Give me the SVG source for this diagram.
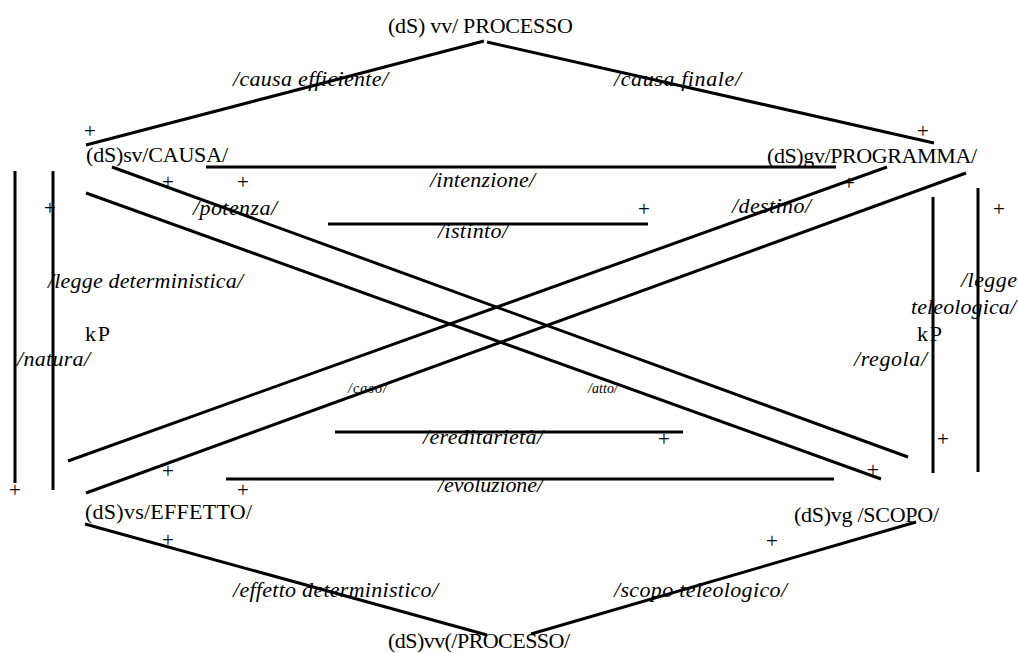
<svg xmlns="http://www.w3.org/2000/svg" width="1018" height="653" viewBox="0 0 1018 653">
<style>
  .bg { fill: #ffffff; }
  .ln { stroke: #000000; stroke-width: 3; fill: none; stroke-linecap: butt; }
  .nd { font-family: "Liberation Serif", "Times New Roman", serif; font-size: 22px; fill: #000000; }
  .lb { font-family: "Liberation Serif", "Times New Roman", serif; font-size: 22px; font-style: italic; fill: #000000; }
  .sm { font-family: "Liberation Serif", "Times New Roman", serif; font-size: 14px; font-style: italic; fill: #000000; }
  .pl { font-family: "Liberation Serif", "Times New Roman", serif; font-size: 21px; fill: #000000; text-anchor: middle; }
</style>
<rect class="bg" x="0" y="0" width="1018" height="653"/>

<g id="connectors">
  <line class="ln" x1="86" y1="145" x2="484" y2="41"/>
  <line class="ln" x1="487" y1="42" x2="934" y2="143"/>
  <line class="ln" x1="206" y1="167" x2="836" y2="167"/>
  <line class="ln" x1="328" y1="224" x2="648" y2="224"/>
  <line class="ln" x1="112" y1="167" x2="908" y2="457"/>
  <line class="ln" x1="86" y1="193" x2="881" y2="479"/>
  <line class="ln" x1="887" y1="167" x2="68" y2="461"/>
  <line class="ln" x1="966" y1="173" x2="86" y2="493"/>
  <line class="ln" x1="15" y1="171" x2="15" y2="483"/>
  <line class="ln" x1="53" y1="171" x2="53" y2="490"/>
  <line class="ln" x1="933" y1="197" x2="933" y2="473"/>
  <line class="ln" x1="978" y1="188" x2="978" y2="472"/>
  <line class="ln" x1="335" y1="432" x2="683" y2="432"/>
  <line class="ln" x1="226" y1="479" x2="834" y2="479"/>
  <line class="ln" x1="85" y1="524" x2="487" y2="635"/>
  <line class="ln" x1="531" y1="634" x2="916" y2="522"/>
</g>

<g id="node-processo-top"><text class="nd" x="388" y="33" textLength="185">(dS) vv/ PROCESSO</text></g>
<g id="node-causa"><text class="nd" x="86" y="162" textLength="142">(dS)sv/CAUSA/</text></g>
<g id="node-programma"><text class="nd" x="767" y="163" textLength="210">(dS)gv/PROGRAMMA/</text></g>
<g id="node-effetto"><text class="nd" x="85" y="519" textLength="167">(dS)vs/EFFETTO/</text></g>
<g id="node-scopo"><text class="nd" x="794" y="522" textLength="145">(dS)vg /SCOPO/</text></g>
<g id="node-processo-bottom"><text class="nd" x="388" y="648" textLength="182">(dS)vv(/PROCESSO/</text></g>
<g id="node-kp-left"><text class="nd" x="85" y="341" textLength="25">kP</text></g>
<g id="node-kp-right"><text class="nd" x="917" y="341" textLength="25">kP</text></g>

<g id="labels">
  <text class="lb" x="233" y="86" textLength="155">/causa efficiente/</text>
  <text class="lb" x="614" y="86" textLength="127">/causa finale/</text>
  <text class="lb" x="430" y="187" textLength="105">/intenzione/</text>
  <text class="lb" x="193" y="215" textLength="84">/potenza/</text>
  <text class="lb" x="438" y="238" textLength="70">/istinto/</text>
  <text class="lb" x="732" y="213" textLength="79">/destino/</text>
  <text class="lb" x="48" y="288" textLength="195">/legge deterministica/</text>
  <text class="lb" x="17" y="366" textLength="73">/natura/</text>
  <text class="lb" x="961" y="287" textLength="56">/legge</text>
  <text class="lb" x="911" y="314" textLength="105">teleologica/</text>
  <text class="lb" x="854" y="366" textLength="73">/regola/</text>
  <text class="sm" x="348" y="393" textLength="39">/caso/</text>
  <text class="sm" x="588" y="393" textLength="30">/atto/</text>
  <text class="lb" x="423" y="444" textLength="120">/ereditarietà/</text>
  <text class="lb" x="438" y="492" textLength="105">/evoluzione/</text>
  <text class="lb" x="233" y="597" textLength="205">/effetto deterministico/</text>
  <text class="lb" x="614" y="597" textLength="173">/scopo teleologico/</text>
</g>

<g id="plus-marks">
  <text class="pl" x="90" y="138">+</text>
  <text class="pl" x="168" y="189">+</text>
  <text class="pl" x="243" y="189">+</text>
  <text class="pl" x="50" y="215">+</text>
  <text class="pl" x="644" y="216">+</text>
  <text class="pl" x="849" y="190">+</text>
  <text class="pl" x="923" y="138">+</text>
  <text class="pl" x="999" y="216">+</text>
  <text class="pl" x="943" y="446">+</text>
  <text class="pl" x="664" y="446">+</text>
  <text class="pl" x="873" y="477">+</text>
  <text class="pl" x="168" y="478">+</text>
  <text class="pl" x="15" y="497">+</text>
  <text class="pl" x="243" y="497">+</text>
  <text class="pl" x="168" y="547">+</text>
  <text class="pl" x="772" y="548">+</text>
</g>
</svg>
